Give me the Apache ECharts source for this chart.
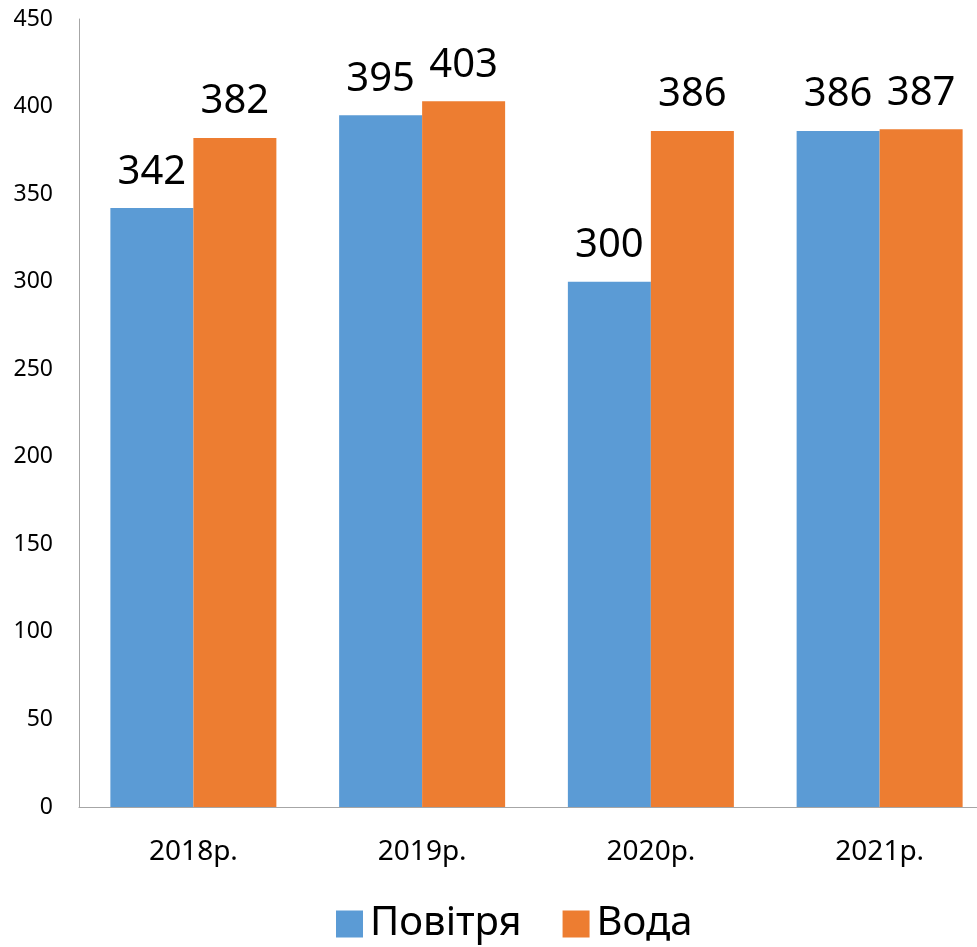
<!DOCTYPE html>
<html>
<head>
<meta charset="utf-8">
<script src="https://cdn.jsdelivr.net/npm/echarts@6/dist/echarts.min.js"></script>
<style>
html,body{margin:0;padding:0;background:#fff;}
#chart{width:977px;height:947px;}
</style>
</head>
<body>
<div id="chart"></div>
<script>
const categories = ['2018р.', '2019р.', '2020р.', '2021р.'];
const seriesNames = ['Повітря', 'Вода'];
const povitrya = [342, 395, 300, 386];
const voda = [382, 403, 386, 387];
const yTicks = { min: 0, max: 450, interval: 50 };

const chart = echarts.init(document.getElementById('chart'));
const font = 'Noto Sans';
const labelStyle = {
  show: true,
  position: 'top',
  distance: 16,
  fontFamily: font,
  fontSize: 40,
  color: '#000'
};
chart.setOption({
  animation: false,
  textStyle: { fontFamily: font },
  grid: { left: 79, width: 915, top: 19, bottom: 140, containLabel: false, outerBoundsMode: 'none' },
  graphic: [{
    type: 'line', z: 10,
    shape: { x1: 79, y1: 807.5, x2: 977, y2: 807.5 },
    style: { stroke: '#A6A6A6', lineWidth: 1 }
  }],
  legend: {
    bottom: -2,
    left: 331,
    itemWidth: 27,
    itemHeight: 27,
    itemGap: 41,
    icon: 'rect',
    textStyle: { fontFamily: font, fontSize: 40, color: '#000', padding: [0, 0, 0, 2] },
    data: seriesNames
  },
  xAxis: {
    type: 'category',
    data: categories,
    axisLine: { show: true, lineStyle: { color: '#A6A6A6', width: 1 } },
    axisTick: { show: false },
    axisLabel: { fontFamily: font, fontSize: 28, color: '#000', margin: 31 }
  },
  yAxis: {
    type: 'value',
    min: yTicks.min,
    max: yTicks.max,
    interval: yTicks.interval,
    axisLine: { show: true, lineStyle: { color: '#A6A6A6', width: 1 } },
    axisTick: { show: false },
    splitLine: { show: false },
    axisLabel: { fontFamily: font, fontSize: 23, color: '#000', margin: 26 }
  },
  series: [
    {
      name: seriesNames[0],
      type: 'bar',
      data: povitrya,
      barWidth: 83,
      barGap: '0%',
      itemStyle: { color: '#5B9BD5' },
      label: labelStyle
    },
    {
      name: seriesNames[1],
      type: 'bar',
      data: voda,
      barWidth: 83,
      barGap: '0%',
      itemStyle: { color: '#ED7D31' },
      label: labelStyle
    }
  ]
});
</script>
</body>
</html>
